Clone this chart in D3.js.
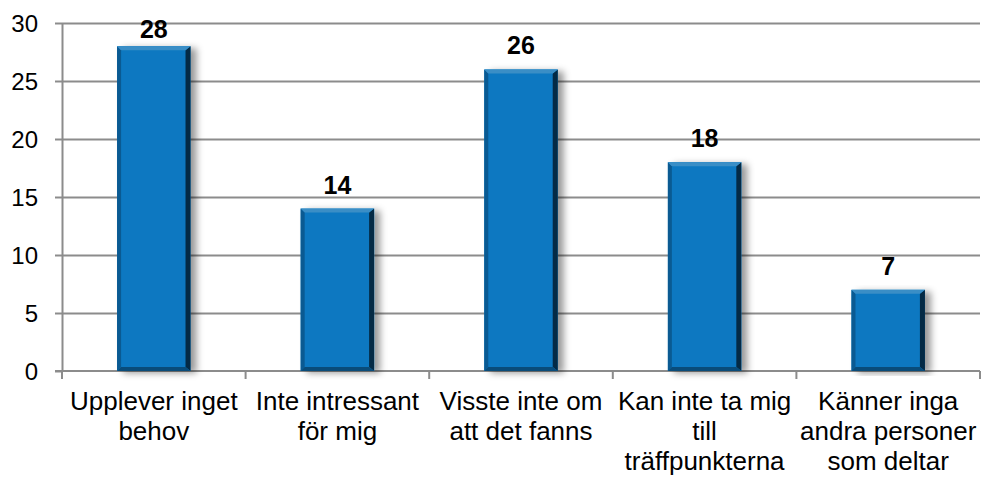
<!DOCTYPE html>
<meta charset="utf-8">
<head>
  <meta charset="UTF-8">
  <title>Orsaker</title>
  <style>
    body { margin: 0; background: #fff; }
    svg { display: block; font-family: "Liberation Sans", Arial, sans-serif; }
    .grid line { stroke: #8c8c8c; stroke-width: 2; }
    .grid path { display: none; }
    .axis path, .axis line { stroke: #8c8c8c; stroke-width: 2; }
    .axis text { font-size: 24px; fill: #000; }
  </style>
</head>
<body>
<script src="https://d3js.org/d3.v7.min.js"></script>
<div id="chart"></div>
<script>

// data
var categories = [
  "Upplever inget behov",
  "Inte intressant för mig",
  "Visste inte om att det fanns",
  "Kan inte ta mig till träffpunkterna",
  "Känner inga andra personer som deltar"
];
var labelLines = [
  ["Upplever inget", "behov"],
  ["Inte intressant", "för mig"],
  ["Visste inte om", "att det fanns"],
  ["Kan inte ta mig", "till", "träffpunkterna"],
  ["Känner inga", "andra personer", "som deltar"]
];
var values = [28, 14, 26, 18, 7];
var yTicks = [0, 5, 10, 15, 20, 25, 30];

var width = 983, height = 478;
var margin = {top: 23, right: 3, bottom: 107, left: 62};
var w = width - margin.left - margin.right,
    h = height - margin.top - margin.bottom;

var svg = d3.select("#chart").append("svg")
    .attr("width", width)
    .attr("height", height);

// soft shadow on the right of each bar
var defs = svg.append("defs");
var filter = defs.append("filter").attr("id", "shadow")
    .attr("x", "-20%").attr("y", "-5%").attr("width", "150%").attr("height", "110%");
filter.append("feDropShadow")
    .attr("dx", 6).attr("dy", 2).attr("stdDeviation", 3.5)
    .attr("flood-color", "#000").attr("flood-opacity", 0.4);

var g = svg.append("g")
    .attr("transform", "translate(" + margin.left + "," + margin.top + ")");

// paddingInner + 2*paddingOuter = paddingInner, so step = w / n
var x = d3.scaleBand()
    .domain(categories)
    .range([0, w])
    .paddingInner(0.6)
    .paddingOuter(0.3);

var y = d3.scaleLinear()
    .domain([0, 30])
    .range([h, 0]);

// gridlines
g.append("g")
    .attr("class", "grid")
    .call(d3.axisLeft(y).tickValues(yTicks.slice(1)).tickSize(-w).tickFormat(""));

// y axis
g.append("g")
    .attr("class", "axis")
    .call(d3.axisLeft(y).tickValues(yTicks).tickSize(7).tickSizeOuter(0).tickPadding(17))
  .selectAll("text")
    .attr("dy", "0.35em");

// x axis: ticks at band boundaries
var xb = g.append("g")
    .attr("class", "axis")
    .attr("transform", "translate(0," + h + ")");
xb.append("line")
    .attr("x1", -7).attr("x2", w)
    .attr("y1", 0).attr("y2", 0);
var bounds = d3.range(categories.length + 1).map(function(i) { return i * x.step(); });
xb.selectAll(".tk")
    .data(bounds)
  .enter().append("line")
    .attr("class", "tk")
    .attr("x1", function(d) { return d; })
    .attr("x2", function(d) { return d; })
    .attr("y1", 0).attr("y2", 8);

// category labels
var lab = g.append("g")
    .attr("transform", "translate(0," + h + ")");
lab.selectAll("text")
    .data(categories)
  .enter().append("text")
    .attr("x", function(d) { return x(d) + x.bandwidth() / 2; })
    .attr("y", 39)
    .attr("text-anchor", "middle")
    .style("font-size", "26px")
    .each(function(d, i) {
      var t = d3.select(this);
      labelLines[i].forEach(function(line, j) {
        t.append("tspan")
          .attr("x", x(d) + x.bandwidth() / 2)
          .attr("dy", j === 0 ? 0 : 30)
          .text(line);
      });
    });

// bars with a bevelled look
var bar = g.selectAll(".bar")
    .data(values)
  .enter().append("g")
    .attr("class", "bar")
    .attr("transform", function(d, i) { return "translate(" + x(categories[i]) + "," + y(d) + ")"; });

var bw = x.bandwidth(), bev = 4;

bar.append("rect")
    .attr("width", bw)
    .attr("height", function(d) { return h - y(d); })
    .attr("fill", "#0878c1")
    .attr("filter", "url(#shadow)");

// left edge
bar.append("path")
    .attr("fill", "#0a5a92")
    .attr("d", function(d) {
      var bh = h - y(d);
      return "M0,0L" + bev + "," + bev + "L" + bev + "," + (bh - bev) + "L0," + bh + "Z";
    });
// right edge
bar.append("path")
    .attr("fill", "#042a45")
    .attr("d", function(d) {
      var bh = h - y(d);
      return "M" + bw + ",0L" + (bw - bev - 1) + "," + bev + "L" + (bw - bev - 1) + "," + (bh - bev) + "L" + bw + "," + bh + "Z";
    });
// top edge
bar.append("path")
    .attr("fill", "#3a8ec6")
    .attr("d", "M0,0L" + bw + ",0L" + (bw - bev - 1) + "," + bev + "L" + bev + "," + bev + "Z");
// bottom edge
bar.append("path")
    .attr("fill", "#094c7a")
    .attr("d", function(d) {
      var bh = h - y(d);
      return "M0," + bh + "L" + bw + "," + bh + "L" + (bw - bev - 1) + "," + (bh - bev) + "L" + bev + "," + (bh - bev) + "Z";
    });

// value labels
g.selectAll(".val")
    .data(values)
  .enter().append("text")
    .attr("class", "val")
    .attr("x", function(d, i) { return x(categories[i]) + bw / 2; })
    .attr("y", function(d) { return Math.max(y(d) - 15, 15); })
    .attr("text-anchor", "middle")
    .style("font-size", "25px")
    .style("font-weight", "bold")
    .text(function(d) { return d; });

</script>
</body>
